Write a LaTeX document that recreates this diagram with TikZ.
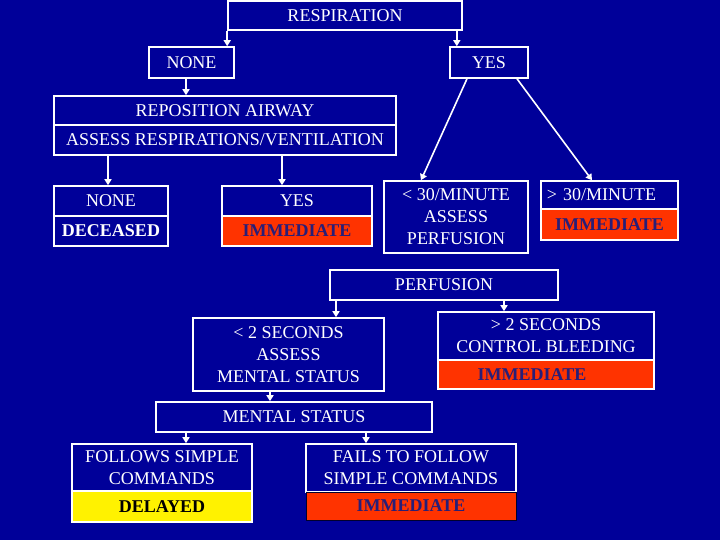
\documentclass[tikz,border=0pt]{standalone}
\usepackage{fontspec}
\setmainfont{Liberation Serif}
\usetikzlibrary{arrows.meta,calc}
\definecolor{navy}{RGB}{0,0,153}
\definecolor{redfill}{RGB}{255,51,0}
\definecolor{immtext}{RGB}{40,30,120}
\begin{document}
\begin{tikzpicture}[x=1pt,y=-1pt,
  box/.style={draw=white,line width=1.6pt,fill=navy,text=white,inner sep=0pt,align=center,
    font=\fontsize{18}{22}\selectfont},
  redbox/.style={box,fill=redfill,text=immtext,font=\fontsize{18}{22}\selectfont\bfseries},
  arr/.style={draw=white,line width=1.6pt,-{Triangle[width=7pt,length=6pt]}}]
\fill[navy] (0,0) rectangle (720,540);
\useasboundingbox (0,0) rectangle (720,540);
% nodes
\node[box,minimum width=234,minimum height=29] (resp) at (345,15.5) {RESPIRATION};
\node[box,minimum width=85,minimum height=31] (none1) at (191.5,62.5) {NONE};
\node[box,minimum width=78,minimum height=31] (yes1) at (489,62.5) {YES};
\node[box,minimum width=342,minimum height=29] (repo) at (225,110.5) {REPOSITION AIRWAY};
\node[box,minimum width=342,minimum height=30] (assess) at (225,140) {ASSESS RESPIRATIONS/VENTILATION};
\node[box,minimum width=114,minimum height=30] (none2) at (111,201) {NONE};
\node[box,minimum width=114,minimum height=30,font=\fontsize{18}{22}\selectfont\bfseries] (dec) at (111,231) {DECEASED};
\node[box,minimum width=150,minimum height=30] (yes2) at (297,201) {YES};
\node[redbox,minimum width=150,minimum height=30] (imm1) at (297,231) {IMMEDIATE};
\node[box,minimum width=144,minimum height=72] (lt30) at (456,217) {< 30/MINUTE\\ASSESS\\PERFUSION};
\node[box,minimum width=137,minimum height=28,text width=137,align=center] (gt30) at (609.5,195) {\hspace*{-16pt}> 30/MINUTE};
\node[redbox,minimum width=137,minimum height=31] (imm2) at (609.5,224.5) {IMMEDIATE};
\node[box,minimum width=228,minimum height=30] (perf) at (444,285) {PERFUSION};
\node[box,minimum width=191,minimum height=73] (lt2) at (288.5,354.5) {< 2 SECONDS\\ASSESS\\MENTAL STATUS};
\node[box,minimum width=216,minimum height=48] (gt2) at (546,336) {> 2 SECONDS\\CONTROL BLEEDING};
\node[redbox,minimum width=216,minimum height=29,text width=216] (imm3) at (546,374.5) {\hspace*{-28pt}IMMEDIATE};
\node[box,minimum width=276,minimum height=30] (ment) at (294,417) {MENTAL STATUS};
\node[box,minimum width=180,minimum height=47] (foll) at (162,467.5) {FOLLOWS SIMPLE\\COMMANDS};
\node[box,minimum width=180,minimum height=31,fill=yellow,text=black,font=\fontsize{18}{22}\selectfont\bfseries] (del) at (162,506.5) {DELAYED};
\node[box,minimum width=210,minimum height=48] (fail) at (411,468) {FAILS TO FOLLOW\\SIMPLE COMMANDS};
\node[redbox,draw=black!70!navy,line width=1pt,minimum width=210,minimum height=28] (imm4) at (411,506) {IMMEDIATE};
% connectors
\draw[arr] (resp.south west) -- (resp.south west |- none1.north);
\draw[arr] ([xshift=-6pt]resp.south east) -- ([xshift=-6pt]resp.south east |- yes1.north);
\draw[arr] (none1.south -| 186,0) -- (repo.north -| 186,0);
\draw[arr] (assess.south -| 108,0) -- (none2.north -| 108,0);
\draw[arr] (assess.south -| 282,0) -- (yes2.north -| 282,0);
\draw[arr] (yes1.south -| 467,0) -- (lt30.north -| 421,0);
\draw[arr] (yes1.south -| 517,0) -- (gt30.north -| 592,0);
\draw[arr] (perf.south -| 336,0) -- (lt2.north -| 336,0);
\draw[arr] (perf.south -| 504,0) -- (gt2.north -| 504,0);
\draw[arr] (lt2.south -| 270,0) -- (ment.north -| 270,0);
\draw[arr] (ment.south -| 186,0) -- (foll.north -| 186,0);
\draw[arr] (ment.south -| 366,0) -- (fail.north -| 366,0);
\end{tikzpicture}
\end{document}
